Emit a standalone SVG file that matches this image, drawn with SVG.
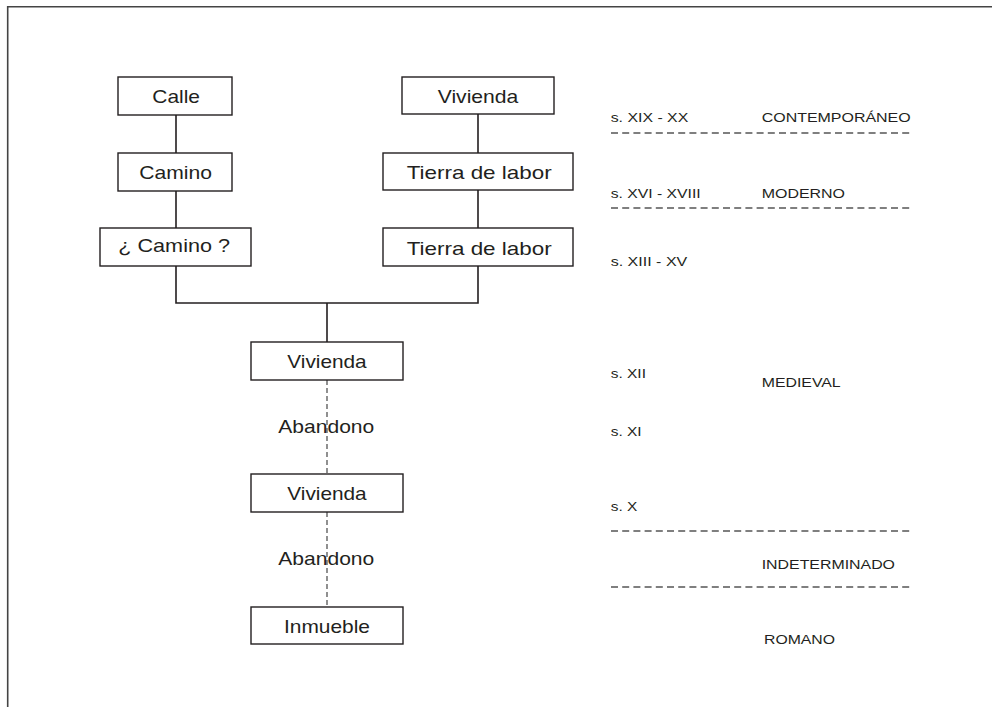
<svg xmlns="http://www.w3.org/2000/svg" width="992" height="707" viewBox="0 0 992 707">
<style>
.box{fill:#fff;stroke:#231f20;stroke-width:1.4}
.n{font-family:"Liberation Sans",Arial,sans-serif;font-size:18.5px;fill:#231f20}
.p{font-family:"Liberation Sans",Arial,sans-serif;font-size:13.5px;fill:#231f20}
.solid{stroke:#231f20;stroke-width:1.6;fill:none}
.dv{stroke:#555;stroke-width:1.3;stroke-dasharray:5 3;fill:none}
.dh{stroke:#555;stroke-width:1.3;stroke-dasharray:7 4.2;fill:none}
</style>
<rect width="992" height="707" fill="#fff"/>
<g id="frame"><path d="M7.7 707 V6.8 H992" stroke="#444" stroke-width="1.6" fill="none"/></g>
<g id="connectors">
<path class="solid" d="M176 115 V153 M176 191 V228 M478 114 V153 M478 190 V228 M176 266 V303 H478 V266 M327 303 V342"/>
<path class="dv" d="M327 380 V474 M327 512 V607"/>
</g>
<g id="calle"><rect class="box" x="118" y="77" width="114" height="38"/><text class="n" x="152.3" y="103.3" textLength="47.7" lengthAdjust="spacingAndGlyphs">Calle</text></g>
<g id="camino"><rect class="box" x="118" y="153" width="114" height="38"/><text class="n" x="139.3" y="179.3" textLength="72.7" lengthAdjust="spacingAndGlyphs">Camino</text></g>
<g id="camino-q"><rect class="box" x="100" y="228" width="151" height="38"/><text class="n" x="118.3" y="252" textLength="111.7" lengthAdjust="spacingAndGlyphs">¿ Camino ?</text></g>
<g id="vivienda-top"><rect class="box" x="402" y="77" width="152" height="37"/><text class="n" x="437.7" y="103.3" textLength="80.6" lengthAdjust="spacingAndGlyphs">Vivienda</text></g>
<g id="tierra1"><rect class="box" x="383" y="153" width="190" height="37"/><text class="n" x="406.7" y="179.3" textLength="145" lengthAdjust="spacingAndGlyphs">Tierra de labor</text></g>
<g id="tierra2"><rect class="box" x="383" y="228" width="190" height="38"/><text class="n" x="406.7" y="255" textLength="145" lengthAdjust="spacingAndGlyphs">Tierra de labor</text></g>
<g id="vivienda-mid"><rect class="box" x="251" y="342" width="152" height="38"/><text class="n" x="287.3" y="367.7" textLength="79.4" lengthAdjust="spacingAndGlyphs">Vivienda</text></g>
<g id="abandono1"><text class="n" x="278.3" y="432.7" textLength="96" lengthAdjust="spacingAndGlyphs">Abandono</text></g>
<g id="vivienda-low"><rect class="box" x="251" y="474" width="152" height="38"/><text class="n" x="287.3" y="500" textLength="79.4" lengthAdjust="spacingAndGlyphs">Vivienda</text></g>
<g id="abandono2"><text class="n" x="278.3" y="565.3" textLength="96" lengthAdjust="spacingAndGlyphs">Abandono</text></g>
<g id="inmueble"><rect class="box" x="251" y="607" width="152" height="37"/><text class="n" x="284" y="632.7" textLength="86" lengthAdjust="spacingAndGlyphs">Inmueble</text></g>
<g id="periods">
<text class="p" x="610.7" y="122.3" textLength="77.6" lengthAdjust="spacingAndGlyphs">s. XIX - XX</text>
<text class="p" x="761.7" y="122.3" textLength="149" lengthAdjust="spacingAndGlyphs">CONTEMPORÁNEO</text>
<path class="dh" d="M611 133 H913"/>
<text class="p" x="610.7" y="197.5" textLength="90" lengthAdjust="spacingAndGlyphs">s. XVI - XVIII</text>
<text class="p" x="761.7" y="198.3" textLength="83.3" lengthAdjust="spacingAndGlyphs">MODERNO</text>
<path class="dh" d="M611 208 H913"/>
<text class="p" x="610.7" y="265.7" textLength="76.6" lengthAdjust="spacingAndGlyphs">s. XIII - XV</text>
<text class="p" x="610.7" y="378.3" textLength="35.3" lengthAdjust="spacingAndGlyphs">s. XII</text>
<text class="p" x="761.7" y="387.3" textLength="79" lengthAdjust="spacingAndGlyphs">MEDIEVAL</text>
<text class="p" x="610.7" y="436" textLength="31" lengthAdjust="spacingAndGlyphs">s. XI</text>
<text class="p" x="610.7" y="511" textLength="26.6" lengthAdjust="spacingAndGlyphs">s. X</text>
<path class="dh" d="M611 531 H913"/>
<text class="p" x="761.7" y="569" textLength="133.3" lengthAdjust="spacingAndGlyphs">INDETERMINADO</text>
<path class="dh" d="M611 587 H913"/>
<text class="p" x="764" y="644.3" textLength="71" lengthAdjust="spacingAndGlyphs">ROMANO</text>
</g>
</svg>
